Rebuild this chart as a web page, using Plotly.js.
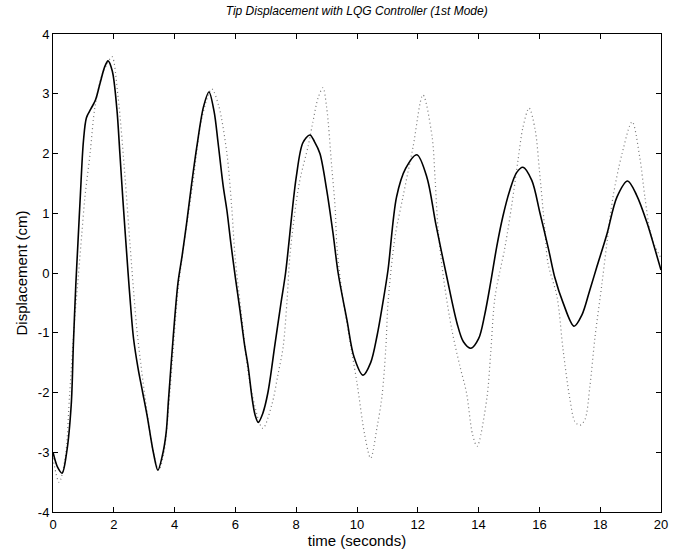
<!DOCTYPE html>
<html>
<head>
<meta charset="utf-8">
<script src="https://cdn.plot.ly/plotly-3.0.1.min.js"></script>
<style>html,body{margin:0;padding:0;background:#fff;}#chart{width:673px;height:555px;}</style>
</head>
<body>
<div id="chart"></div>
<script>
// Solid curve (LQG controlled response)
var solidTime = [0,0.15,0.3,0.45,0.6,0.67,0.75,0.82,0.9,1.0,1.1,1.25,1.4,1.55,1.7,1.81,1.95,2.1,2.2,2.3,2.47,2.53,2.65,2.8,2.95,3.1,3.3,3.45,3.6,3.72,3.8,3.95,4.11,4.25,4.4,4.55,4.73,4.95,5.13,5.3,5.43,5.6,5.72,5.85,6.0,6.15,6.3,6.42,6.55,6.65,6.75,6.9,7.07,7.3,7.5,7.65,8.0,8.22,8.45,8.6,8.78,9.0,9.21,9.38,9.67,9.9,10.2,10.45,10.66,10.85,11.02,11.3,11.6,11.97,12.3,12.6,12.96,13.29,13.5,13.75,14.0,14.2,14.4,14.6,14.8,15.03,15.25,15.46,15.75,16.02,16.3,16.51,16.78,17.14,17.4,17.65,17.9,18.22,18.55,18.9,19.2,19.54,19.8,20.0];
var solidDisp = [-3.0,-3.25,-3.35,-3.0,-2.2,-1.2,-0.2,0.5,1.3,2.2,2.6,2.75,2.9,3.18,3.45,3.55,3.38,2.75,2.0,1.22,0.0,-0.4,-1.1,-1.6,-2.0,-2.4,-3.0,-3.3,-3.05,-2.68,-2.12,-1.1,-0.17,0.3,0.85,1.45,2.11,2.78,3.03,2.7,2.18,1.45,1.05,0.5,-0.08,-0.62,-1.2,-1.57,-2.1,-2.38,-2.5,-2.35,-2.0,-1.2,-0.5,0.0,1.6,2.18,2.31,2.2,2.0,1.4,0.67,0.0,-0.79,-1.4,-1.71,-1.5,-1.05,-0.5,0.05,1.27,1.75,1.98,1.6,0.8,-0.08,-0.84,-1.15,-1.26,-1.1,-0.7,-0.15,0.45,0.95,1.39,1.68,1.77,1.55,1.0,0.4,-0.08,-0.5,-0.89,-0.7,-0.3,0.12,0.65,1.27,1.54,1.3,0.84,0.4,0.05];

// Dotted curve (comparison response)
var dottedTime = [0,0.2,0.4,0.55,0.72,0.83,0.95,1.05,1.22,1.38,1.6,1.78,1.94,2.14,2.37,2.53,2.75,2.86,3.1,3.3,3.48,3.65,3.85,4.11,4.28,4.6,4.9,5.22,5.45,5.72,5.88,5.99,6.2,6.5,6.9,7.2,7.4,7.57,7.7,7.8,8.1,8.4,8.55,8.72,8.88,9.0,9.17,9.28,9.34,9.5,9.67,10.0,10.25,10.45,10.66,10.82,10.95,11.02,11.25,11.51,11.84,12.17,12.47,12.57,12.67,12.85,13.12,13.39,13.6,13.8,13.95,14.27,14.4,14.54,14.87,15.1,15.3,15.46,15.66,15.86,16.0,16.18,16.28,16.58,16.78,17.0,17.17,17.33,17.5,17.66,17.83,18.06,18.22,18.42,18.72,19.05,19.3,19.47,19.64,19.8,20.0];
var dottedDisp = [-3.1,-3.5,-3.1,-2.0,-0.73,-0.07,0.67,1.27,2.0,2.78,3.3,3.5,3.62,2.95,1.6,0.5,-0.9,-1.4,-2.35,-3.0,-3.3,-3.0,-1.96,-0.3,0.38,1.5,2.6,3.08,2.8,2.0,1.09,0.27,-0.7,-1.9,-2.6,-2.2,-1.7,-1.24,-0.45,0.33,1.5,2.14,2.53,2.93,3.1,2.78,1.77,1.1,0.44,-0.3,-0.85,-1.84,-2.7,-3.1,-2.58,-2.07,-1.24,-0.5,0.6,1.27,2.1,2.98,2.28,1.56,0.72,-0.1,-0.95,-1.57,-2.0,-2.7,-2.9,-2.1,-1.32,-0.4,0.44,1.17,1.9,2.44,2.76,2.4,1.72,0.72,0.17,-0.4,-1.29,-2.1,-2.49,-2.55,-2.45,-1.9,-1.07,-0.17,0.5,1.27,2.0,2.53,1.94,1.27,0.7,0.45,0.25];

var xTicks = [0,2,4,6,8,10,12,14,16,18,20];
var yTicks = [-4,-3,-2,-1,0,1,2,3,4];

var traces = [
  {x: dottedTime, y: dottedDisp, type: 'scatter', mode: 'lines',
   line: {color: '#777777', width: 1.2, dash: '1px,3px', shape: 'spline', smoothing: 0.9},
   hoverinfo: 'skip'},
  {x: solidTime, y: solidDisp, type: 'scatter', mode: 'lines',
   line: {color: '#000000', width: 1.6, shape: 'spline', smoothing: 0.9},
   hoverinfo: 'skip'}
];

var fontFam = '"Liberation Sans", Arial, Helvetica, sans-serif';
var layout = {
  width: 673, height: 555,
  margin: {l: 53, r: 12, t: 34, b: 43},
  paper_bgcolor: '#ffffff', plot_bgcolor: '#ffffff',
  showlegend: false,
  font: {family: fontFam, size: 13, color: '#000'},
  title: {text: '<i>Tip Displacement with LQG Controller (1st Mode)</i>', x: 0.53, xanchor: 'center', y: 0.988, yanchor: 'top',
          font: {family: fontFam, size: 12, color: '#000'}},
  xaxis: {range: [0, 20], tickvals: xTicks, ticktext: xTicks.map(String),
          ticks: 'inside', ticklen: 5, tickcolor: '#000', showline: true, linecolor: '#000', linewidth: 1,
          mirror: 'ticks', showgrid: false, zeroline: false,
          tickfont: {family: fontFam, size: 13, color: '#000'},
          title: {text: 'time (seconds)', standoff: 2, font: {family: fontFam, size: 15, color: '#000'}}},
  yaxis: {range: [-4, 4], tickvals: yTicks, ticktext: yTicks.map(String),
          ticks: 'inside', ticklen: 5, tickcolor: '#000', showline: true, linecolor: '#000', linewidth: 1,
          mirror: 'ticks', showgrid: false, zeroline: false,
          tickfont: {family: fontFam, size: 13, color: '#000'},
          title: {text: 'Displacement (cm)', standoff: 6, font: {family: fontFam, size: 15, color: '#000'}}}
};

Plotly.newPlot('chart', traces, layout, {displayModeBar: false, staticPlot: true});
</script>
</body>
</html>
